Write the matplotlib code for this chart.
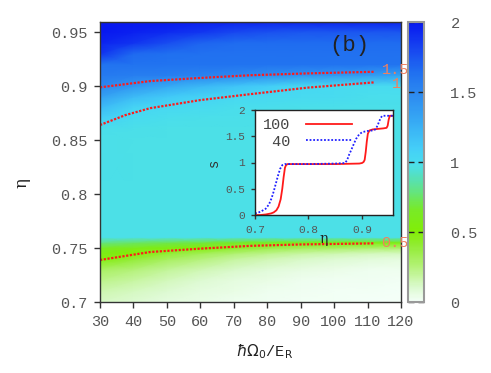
import numpy as np
import matplotlib
matplotlib.use("Agg")
import matplotlib.pyplot as plt
from matplotlib.colors import LinearSegmentedColormap

# ---------------- data ----------------
omega = [30, 40, 50, 60, 70, 80, 90, 100, 110, 120]
eta_rows = [0.70, 0.71, 0.72, 0.73, 0.74, 0.745, 0.75, 0.755, 0.76, 0.80, 0.85, 0.86,
            0.87, 0.88, 0.89, 0.90, 0.91, 0.92, 0.93, 0.94, 0.95, 0.96]
# s values: one row per eta, one column per omega
s_grid = [
    [0.12, 0.10, 0.07, 0.05, 0.03, 0.02, 0.01, 0.01, 0.00, 0.00],
    [0.16, 0.13, 0.10, 0.07, 0.05, 0.03, 0.02, 0.01, 0.01, 0.00],
    [0.22, 0.18, 0.14, 0.10, 0.07, 0.05, 0.03, 0.02, 0.02, 0.01],
    [0.30, 0.25, 0.20, 0.15, 0.11, 0.08, 0.06, 0.04, 0.03, 0.03],
    [0.52, 0.40, 0.32, 0.25, 0.19, 0.15, 0.12, 0.10, 0.08, 0.07],
    [0.58, 0.50, 0.40, 0.33, 0.27, 0.22, 0.18, 0.16, 0.14, 0.13],
    [0.65, 0.60, 0.55, 0.50, 0.42, 0.36, 0.32, 0.30, 0.28, 0.27],
    [0.80, 0.75, 0.72, 0.70, 0.65, 0.60, 0.58, 0.56, 0.55, 0.54],
    [0.97, 0.97, 0.97, 0.97, 0.97, 0.97, 0.97, 0.97, 0.97, 0.97],
    [0.97, 0.97, 0.97, 0.97, 0.97, 0.97, 0.97, 0.97, 0.97, 0.97],
    [0.98, 0.97, 0.97, 0.97, 0.97, 0.97, 0.97, 0.97, 0.97, 0.97],
    [0.99, 0.98, 0.97, 0.97, 0.97, 0.97, 0.97, 0.97, 0.97, 0.97],
    [1.08, 1.00, 0.99, 0.98, 0.98, 0.97, 0.97, 0.97, 0.97, 0.97],
    [1.20, 1.05, 1.02, 1.00, 0.99, 0.99, 0.98, 0.98, 0.98, 0.98],
    [1.35, 1.20, 1.12, 1.07, 1.03, 1.02, 1.01, 1.00, 0.99, 0.99],
    [1.50, 1.40, 1.30, 1.22, 1.15, 1.10, 1.03, 1.01, 1.00, 1.00],
    [1.58, 1.56, 1.55, 1.53, 1.50, 1.46, 1.42, 1.40, 1.37, 1.33],
    [1.62, 1.62, 1.62, 1.62, 1.62, 1.62, 1.62, 1.62, 1.62, 1.62],
    [1.88, 1.66, 1.64, 1.63, 1.63, 1.63, 1.63, 1.63, 1.63, 1.63],
    [1.95, 1.88, 1.78, 1.68, 1.65, 1.65, 1.65, 1.65, 1.65, 1.65],
    [2.00, 1.96, 1.92, 1.87, 1.80, 1.76, 1.74, 1.74, 1.74, 1.74],
    [2.00, 2.00, 2.00, 1.97, 1.96, 1.96, 1.96, 1.96, 1.96, 1.96],
]

# contour lines (omega, eta)
c05_x = [30, 45, 60, 75, 90, 112]
c05_y = [0.7389, 0.7463, 0.7494, 0.7520, 0.7533, 0.7543]
c10_x = [30, 37.5, 45, 60, 75, 92, 112]
c10_y = [0.8639, 0.8730, 0.8795, 0.8870, 0.8925, 0.8985, 0.9034]
c15_x = [30, 45, 60, 75, 92, 112]
c15_y = [0.8988, 0.9046, 0.9075, 0.9100, 0.9117, 0.9132]
contour_labels = ["0.5", "1", "1.5"]

# inset curves: s(eta)
red_eta = [0.700, 0.710, 0.720, 0.730, 0.735, 0.740, 0.744, 0.748, 0.751, 0.7535, 0.756, 0.758,
           0.761, 0.800, 0.850, 0.895, 0.900, 0.903, 0.905, 0.907, 0.909, 0.911, 0.914, 0.920,
           0.930, 0.940, 0.946, 0.948, 0.950, 0.952, 0.958]
red_s = [0.00, 0.00, 0.01, 0.03, 0.05, 0.09, 0.16, 0.30, 0.50, 0.72, 0.90, 0.95,
         0.97, 0.97, 0.97, 0.98, 0.99, 1.01, 1.05, 1.20, 1.40, 1.55, 1.61, 1.63,
         1.64, 1.65, 1.66, 1.70, 1.82, 1.89, 1.89]
blue_eta = [0.700, 0.710, 0.720, 0.726, 0.731, 0.735, 0.739, 0.743, 0.747, 0.751, 0.756,
            0.800, 0.850, 0.868, 0.872, 0.876, 0.880, 0.885, 0.889, 0.895, 0.901, 0.910,
            0.920, 0.925, 0.929, 0.932, 0.935, 0.938, 0.958]
blue_s = [0.03, 0.06, 0.12, 0.20, 0.32, 0.45, 0.60, 0.75, 0.88, 0.95, 0.97,
          0.97, 0.98, 0.99, 1.04, 1.15, 1.24, 1.36, 1.45, 1.54, 1.58, 1.60,
          1.61, 1.63, 1.70, 1.78, 1.85, 1.89, 1.89]
legend_labels = ["100", " 40"]

# ---------------- style ----------------
mono = "Liberation Mono"
gray = "#555555"
cmap = LinearSegmentedColormap.from_list("gp", [
    (0.0, "#f4fff8"), (0.05, "#dcfad0"), (0.125, "#b4f278"), (0.2, "#92ec34"),
    (0.25, "#82ee06"), (0.33, "#78ea28"), (0.4, "#62e488"), (0.45, "#54e0c0"),
    (0.485, "#4ce0e6"), (0.5, "#48dcf0"), (0.55, "#44cef8"), (0.65, "#36a8f4"),
    (0.75, "#2c88f0"), (0.82, "#2070f0"), (0.9, "#1848f0"), (1.0, "#0818f0")])

fig = plt.figure(figsize=(4.91, 3.73), dpi=100)
ax = fig.add_axes([100/491, 1-302/373, 301/491, 280/373])

X, Y = np.meshgrid(omega, eta_rows)
pm = ax.pcolormesh(X, Y, np.array(s_grid), cmap=cmap, vmin=0, vmax=2, shading="gouraud")
ax.set_xlim(30, 120)
ax.set_ylim(0.7, 0.9593)

dot = (0, (1.0, 0.7))
for cx, cy, lab in zip([c05_x, c10_x, c15_x], [c05_y, c10_y, c15_y], contour_labels):
    ax.plot(cx, cy, color="#ff1a1a", lw=1.6, linestyle=dot)
lab_col = "#f08060"
ax.text(114.2, c05_y[-1], contour_labels[0], color=lab_col, family=mono, fontsize=11,
        va="center", ha="left", clip_on=False)
ax.text(117.2, c10_y[-1] - 0.0012, contour_labels[1], color=lab_col, family=mono, fontsize=11,
        va="center", ha="left", clip_on=False)
ax.text(114.2, c15_y[-1] + 0.0012, contour_labels[2], color=lab_col, family=mono, fontsize=11,
        va="center", ha="left", clip_on=False)

ax.set_xticks(range(30, 121, 10))
ax.set_yticks([0.7, 0.75, 0.8, 0.85, 0.9, 0.95])
ax.set_yticklabels(["0.7", "0.75", "0.8", "0.85", "0.9", "0.95"])
ax.tick_params(direction="out", length=4, width=1, colors="#333333", labelcolor=gray,
               labelsize=11, pad=5)
for lab in ax.get_xticklabels() + ax.get_yticklabels():
    lab.set_family(mono)
for sp in ax.spines.values():
    sp.set_color("#333333")
    sp.set_linewidth(1.0)

ax.text(0.827, 0.915, "(b)", transform=ax.transAxes, family=mono, fontsize=16,
        ha="center", va="center", color="#222222")

fig.text(265/491, 1-352/373, r"$\hbar\Omega_0$/E$_{\mathrm{R}}$", family=mono, fontsize=11,
         ha="center", va="center", color="#222222")
fig.text(22/491, 1-183/373, "η", family="DejaVu Serif", fontsize=12, rotation=90,
         ha="center", va="center", color="#222222")

# colorbar
cax = fig.add_axes([408/491, 1-302/373, 16/491, 280/373])
cb = fig.colorbar(pm, cax=cax)
cb.set_ticks([0, 0.5, 1, 1.5, 2])
cb.set_ticklabels(["0", "0.5", "1", "1.5", "2"])
cax.tick_params(direction="in", length=4, width=1, left=True, right=True, colors="#222222",
                labelcolor=gray, labelsize=11, pad=19)
for lab in cax.get_yticklabels():
    lab.set_family(mono)
cb.outline.set_edgecolor("#999999")
cb.outline.set_linewidth(1.5)

# inset
ins = fig.add_axes([255/491, 1-215/373, 138/491, 105/373])
ins.set_facecolor("white")
ins.plot(red_eta, red_s, color="#ff1a1a", lw=1.3, label=legend_labels[0])
ins.plot(blue_eta, blue_s, color="#2020ff", lw=1.3, linestyle=(0, (1, 1)), label=legend_labels[1])
ins.set_xlim(0.7, 0.958)
ins.set_ylim(0, 2)
ins.set_xticks([0.7, 0.8, 0.9])
ins.set_yticks([0, 0.5, 1, 1.5, 2])
ins.set_yticklabels(["0", "0.5", "1", "1.5", "2"])
ins.tick_params(direction="out", length=3, width=1, colors="#333333", labelcolor=gray,
                labelsize=8, pad=4)
for lab in ins.get_xticklabels() + ins.get_yticklabels():
    lab.set_family(mono)
for sp in ins.spines.values():
    sp.set_color("#222222")
    sp.set_linewidth(1.0)
ins.set_xlabel("η", family="DejaVu Serif", fontsize=10, labelpad=-2, color="#222222")
ins.set_ylabel("s", family=mono, fontsize=10, labelpad=3, color="#333333")
leg = ins.legend(loc="upper left", frameon=False, markerfirst=False, handlelength=3.0,
                 prop={"family": mono, "size": 11}, borderaxespad=0.0, labelspacing=0.15,
                 handletextpad=1.0, borderpad=0.55)
for t in leg.get_texts():
    t.set_color("#444444")

fig.savefig("out.png", dpi=100)
